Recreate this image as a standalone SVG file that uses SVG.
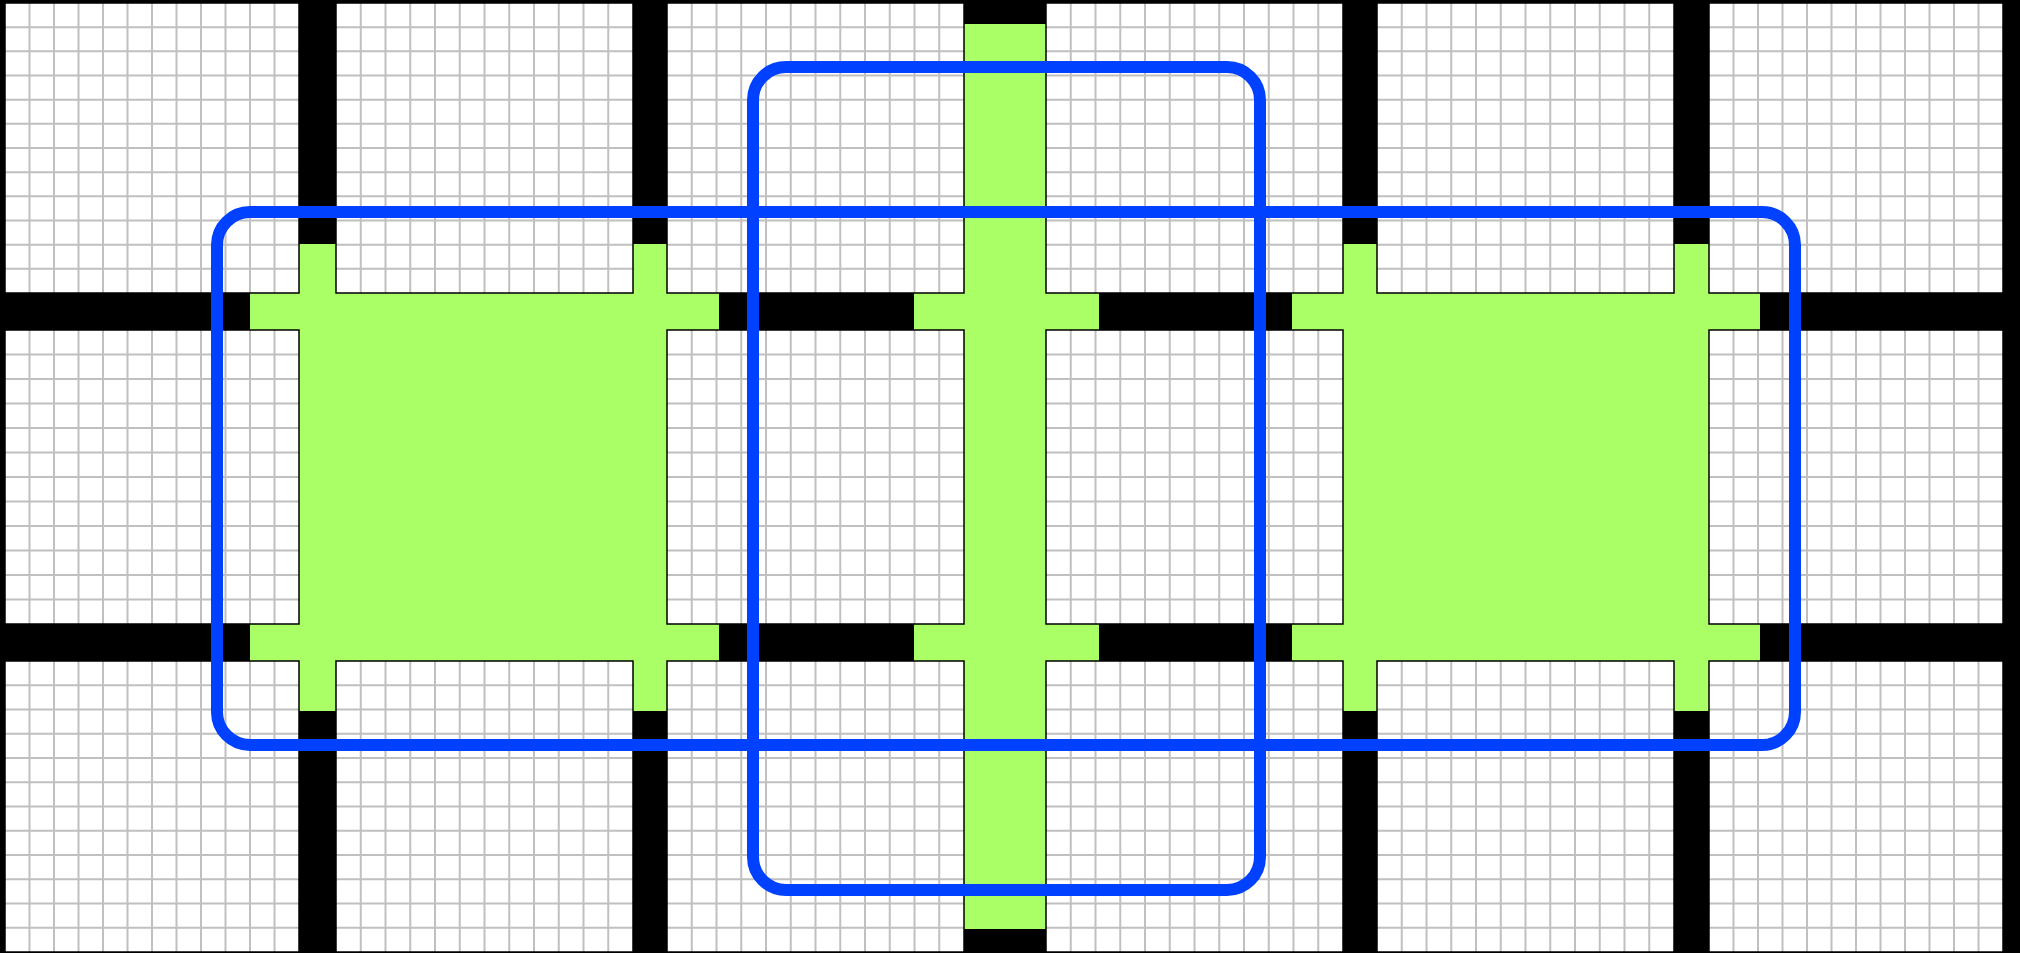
<svg xmlns="http://www.w3.org/2000/svg" xmlns:xlink="http://www.w3.org/1999/xlink" width="2020" height="953" viewBox="0 0 2020 953">
<style>
.green{fill:#aaff66}
.grid{fill:none;stroke:#c0c0c0;stroke-width:2}
.edge{fill:none;stroke:#000;stroke-width:1.5}
.loop{fill:none;stroke:#0040ff;stroke-width:12}
</style>
<defs>
<symbol id="tile" viewBox="0 0 12 12" preserveAspectRatio="none" overflow="visible">
<rect width="12" height="12" fill="#fff"/>
<path class="grid" vector-effect="non-scaling-stroke" d="M1 0V12M2 0V12M3 0V12M4 0V12M5 0V12M6 0V12M7 0V12M8 0V12M9 0V12M10 0V12M11 0V12M0 1H12M0 2H12M0 3H12M0 4H12M0 5H12M0 6H12M0 7H12M0 8H12M0 9H12M0 10H12M0 11H12"/>
<rect class="edge" vector-effect="non-scaling-stroke" width="12" height="12"/>
</symbol>
</defs>
<rect id="background" x="0" y="0" width="2020" height="953" fill="#000"/>
<g id="green-left">
<path class="green" d="M299 244H336V293H633V244H667V293H719V330H667V624H719V661H667V711H633V661H336V711H299V661H250V624H299V330H250V293H299Z"/>
</g>
<g id="green-middle">
<path class="green" d="M964 24H1046V293H1099V330H1046V624H1099V661H1046V929H964V661H914V624H964V330H914V293H964Z"/>
</g>
<g id="green-right">
<path class="green" d="M1343 244H1377V293H1674V244H1709V293H1760V330H1709V624H1760V661H1709V711H1674V661H1377V711H1343V661H1292V624H1343V330H1292V293H1343Z"/>
</g>
<g id="tiles">
<use xlink:href="#tile" x="5" y="3" width="294" height="290"/>
<use xlink:href="#tile" x="336" y="3" width="297" height="290"/>
<use xlink:href="#tile" x="667" y="3" width="297" height="290"/>
<use xlink:href="#tile" x="1046" y="3" width="297" height="290"/>
<use xlink:href="#tile" x="1377" y="3" width="297" height="290"/>
<use xlink:href="#tile" x="1709" y="3" width="294" height="290"/>
<use xlink:href="#tile" x="5" y="330" width="294" height="294"/>
<use xlink:href="#tile" x="667" y="330" width="297" height="294"/>
<use xlink:href="#tile" x="1046" y="330" width="297" height="294"/>
<use xlink:href="#tile" x="1709" y="330" width="294" height="294"/>
<use xlink:href="#tile" x="5" y="661" width="294" height="291"/>
<use xlink:href="#tile" x="336" y="661" width="297" height="291"/>
<use xlink:href="#tile" x="667" y="661" width="297" height="291"/>
<use xlink:href="#tile" x="1046" y="661" width="297" height="291"/>
<use xlink:href="#tile" x="1377" y="661" width="297" height="291"/>
<use xlink:href="#tile" x="1709" y="661" width="294" height="291"/>
</g>
<g id="connectors">
<rect id="loop-wide" class="loop" x="217" y="212" width="1578" height="533" rx="33" ry="33"/>
<rect id="loop-tall" class="loop" x="753" y="67" width="507" height="823" rx="33" ry="33"/>
</g>
</svg>
